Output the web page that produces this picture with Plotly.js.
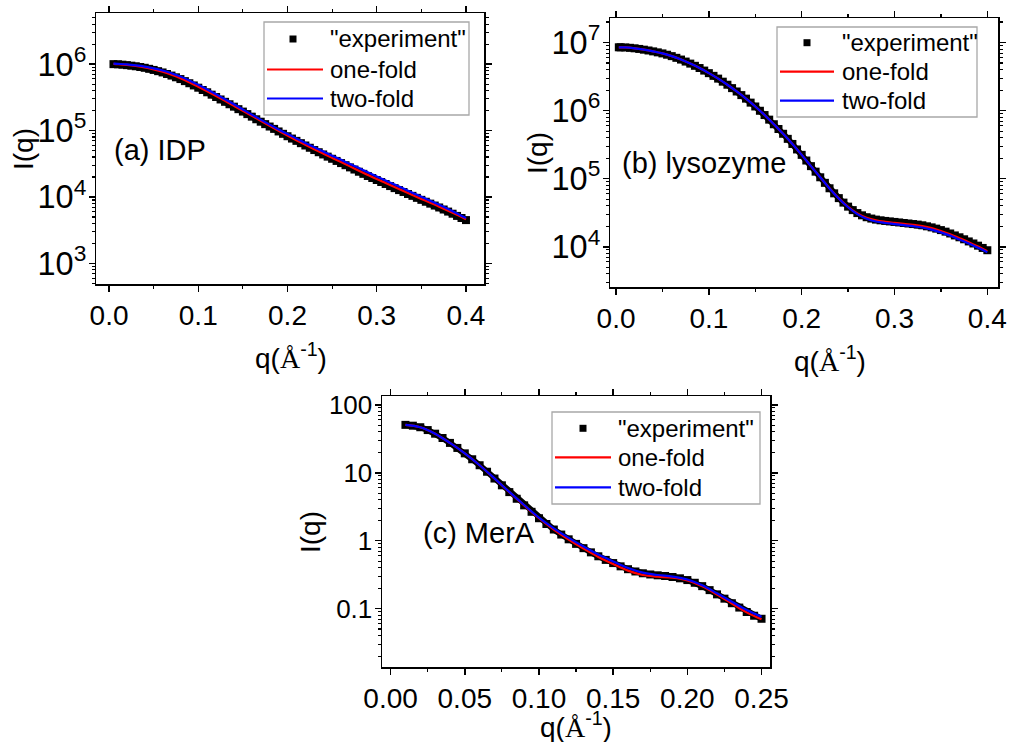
<!DOCTYPE html>
<html>
<head>
<meta charset="utf-8">
<script src="https://cdn.plot.ly/plotly-3.0.1.min.js"></script>
<style>
html,body{margin:0;padding:0;background:#fff;}
#chart{width:1010px;height:742px;}
</style>
</head>
<body>
<div id="chart"></div>
<script>
// ---------- Panel (a) IDP ----------
const qA_exp = [0.005,0.010,0.015,0.020,0.025,0.030,0.035,0.040,0.045,0.050,0.055,0.060,0.065,0.070,0.075,0.080,0.085,0.090,0.095,0.100,0.105,0.110,0.115,0.120,0.125,0.130,0.135,0.140,0.145,0.150,0.155,0.160,0.165,0.170,0.175,0.180,0.185,0.190,0.195,0.200,0.205,0.210,0.215,0.220,0.225,0.230,0.235,0.240,0.245,0.250,0.255,0.260,0.265,0.270,0.275,0.280,0.285,0.290,0.295,0.300,0.305,0.310,0.315,0.320,0.325,0.330,0.335,0.340,0.345,0.350,0.355,0.360,0.365,0.370,0.375,0.380,0.385,0.390,0.395,0.400];
const IA_exp = [1.00e6,9.95e5,9.82e5,9.66e5,9.48e5,9.29e5,9.06e5,8.81e5,8.50e5,8.18e5,7.84e5,7.50e5,7.11e5,6.73e5,6.34e5,5.96e5,5.55e5,5.16e5,4.78e5,4.42e5,4.08e5,3.77e5,3.47e5,3.20e5,2.94e5,2.71e5,2.49e5,2.29e5,2.10e5,1.93e5,1.77e5,1.62e5,1.48e5,1.36e5,1.25e5,1.15e5,1.06e5,9.70e4,8.93e4,8.22e4,7.58e4,7.00e4,6.46e4,5.96e4,5.51e4,5.09e4,4.72e4,4.37e4,4.05e4,3.76e4,3.49e4,3.24e4,3.01e4,2.79e4,2.59e4,2.40e4,2.23e4,2.07e4,1.93e4,1.80e4,1.68e4,1.57e4,1.46e4,1.36e4,1.27e4,1.19e4,1.11e4,1.04e4,9.71e3,9.06e3,8.48e3,7.94e3,7.43e3,6.95e3,6.48e3,6.03e3,5.60e3,5.19e3,4.83e3,4.49e3];
const qA_fit = [0.005,0.01,0.02,0.03,0.04,0.05,0.06,0.07,0.08,0.09,0.10,0.11,0.12,0.13,0.14,0.15,0.16,0.17,0.18,0.19,0.20,0.21,0.22,0.23,0.24,0.25,0.26,0.27,0.28,0.29,0.30,0.31,0.32,0.33,0.34,0.35,0.36,0.37,0.38,0.39,0.40];
const IA_one = [1.01e6,1.00e6,9.75e5,9.40e5,8.95e5,8.35e5,7.68e5,6.92e5,6.14e5,5.33e5,4.57e5,3.90e5,3.31e5,2.80e5,2.36e5,1.99e5,1.67e5,1.40e5,1.18e5,9.95e4,8.42e4,7.17e4,6.12e4,5.24e4,4.50e4,3.88e4,3.35e4,2.89e4,2.49e4,2.15e4,1.86e4,1.62e4,1.41e4,1.23e4,1.07e4,9.35e3,8.18e3,7.16e3,6.23e3,5.38e3,4.62e3];
const IA_two = [1.02e6,1.01e6,9.90e5,9.60e5,9.20e5,8.65e5,8.02e5,7.30e5,6.52e5,5.68e5,4.88e5,4.16e5,3.52e5,2.96e5,2.49e5,2.08e5,1.74e5,1.46e5,1.23e5,1.04e5,8.85e4,7.58e4,6.50e4,5.60e4,4.84e4,4.19e4,3.63e4,3.14e4,2.72e4,2.35e4,2.04e4,1.77e4,1.54e4,1.34e4,1.16e4,1.01e4,8.78e3,7.62e3,6.58e3,5.65e3,4.82e3];

// ---------- Panel (b) lysozyme ----------
const qB_exp = [0.003,0.005,0.010,0.015,0.020,0.025,0.030,0.035,0.040,0.045,0.050,0.055,0.060,0.065,0.070,0.075,0.080,0.085,0.090,0.095,0.100,0.105,0.110,0.115,0.120,0.125,0.130,0.135,0.140,0.145,0.150,0.155,0.160,0.165,0.170,0.175,0.180,0.185,0.190,0.195,0.200,0.205,0.210,0.215,0.220,0.225,0.230,0.235,0.240,0.245,0.250,0.255,0.260,0.265,0.270,0.275,0.280,0.285,0.290,0.295,0.300,0.305,0.310,0.315,0.320,0.325,0.330,0.335,0.340,0.345,0.350,0.355,0.360,0.365,0.370,0.375,0.380,0.385,0.390,0.395,0.400];
const IB_exp = [8.51e6,8.50e6,8.47e6,8.36e6,8.22e6,8.05e6,7.85e6,7.64e6,7.41e6,7.17e6,6.92e6,6.62e6,6.31e6,5.96e6,5.62e6,5.25e6,4.90e6,4.55e6,4.22e6,3.87e6,3.55e6,3.24e6,2.95e6,2.66e6,2.40e6,2.14e6,1.91e6,1.69e6,1.50e6,1.31e6,1.15e6,9.95e5,8.61e5,7.37e5,6.31e5,5.37e5,4.57e5,3.85e5,3.24e5,2.69e5,2.24e5,1.85e5,1.53e5,1.27e5,1.05e5,8.70e4,7.24e4,6.10e4,5.19e4,4.46e4,3.89e4,3.46e4,3.13e4,2.90e4,2.72e4,2.60e4,2.51e4,2.45e4,2.40e4,2.36e4,2.32e4,2.28e4,2.24e4,2.20e4,2.16e4,2.12e4,2.07e4,2.00e4,1.93e4,1.85e4,1.76e4,1.67e4,1.57e4,1.47e4,1.38e4,1.29e4,1.20e4,1.12e4,1.04e4,9.63e3,8.91e3];
const qB_fit = [0.003,0.01,0.02,0.03,0.04,0.05,0.06,0.07,0.08,0.09,0.10,0.11,0.12,0.13,0.14,0.15,0.16,0.17,0.18,0.19,0.20,0.21,0.22,0.23,0.24,0.25,0.26,0.27,0.28,0.29,0.30,0.31,0.32,0.33,0.34,0.35,0.36,0.37,0.38,0.39,0.40];
const IB_one = [8.51e6,8.47e6,8.22e6,7.85e6,7.41e6,6.92e6,6.31e6,5.62e6,4.90e6,4.22e6,3.55e6,2.95e6,2.40e6,1.91e6,1.50e6,1.15e6,8.61e5,6.31e5,4.57e5,3.24e5,2.24e5,1.53e5,1.05e5,7.24e4,5.15e4,3.86e4,3.09e4,2.67e4,2.45e4,2.33e4,2.25e4,2.17e4,2.10e4,2.01e4,1.88e4,1.71e4,1.53e4,1.34e4,1.17e4,1.01e4,8.65e3];
const IB_two = [8.51e6,8.47e6,8.22e6,7.85e6,7.41e6,6.92e6,6.31e6,5.62e6,4.90e6,4.22e6,3.55e6,2.95e6,2.40e6,1.91e6,1.50e6,1.15e6,8.61e5,6.31e5,4.57e5,3.24e5,2.24e5,1.53e5,1.05e5,7.20e4,5.12e4,3.81e4,3.02e4,2.58e4,2.35e4,2.24e4,2.16e4,2.08e4,2.01e4,1.92e4,1.79e4,1.63e4,1.46e4,1.28e4,1.12e4,9.70e3,8.35e3];

// ---------- Panel (c) MerA ----------
const qC_exp = [0.010,0.015,0.020,0.025,0.030,0.035,0.040,0.045,0.050,0.055,0.060,0.065,0.070,0.075,0.080,0.085,0.090,0.095,0.100,0.105,0.110,0.115,0.120,0.125,0.130,0.135,0.140,0.145,0.150,0.155,0.160,0.165,0.170,0.175,0.180,0.185,0.190,0.195,0.200,0.205,0.210,0.215,0.220,0.225,0.230,0.235,0.240,0.245,0.250];
const IC_exp = [50.7,49.3,46.8,42.5,37.6,32.5,27.5,23.2,19.3,15.8,12.9,10.35,8.22,6.53,5.19,4.14,3.31,2.66,2.14,1.76,1.46,1.23,1.047,0.897,0.776,0.673,0.589,0.521,0.468,0.419,0.380,0.352,0.331,0.318,0.309,0.302,0.292,0.279,0.263,0.240,0.214,0.187,0.162,0.140,0.120,0.1035,0.0891,0.0785,0.0708];
const qC_fit = [0.01,0.02,0.03,0.04,0.05,0.06,0.07,0.08,0.09,0.10,0.11,0.12,0.13,0.14,0.15,0.16,0.17,0.18,0.19,0.20,0.21,0.22,0.23,0.24,0.25];
const IC_one = [50.7,46.8,37.6,27.5,19.3,12.9,8.22,5.19,3.31,2.14,1.46,1.04,0.765,0.575,0.452,0.362,0.312,0.295,0.285,0.260,0.213,0.161,0.119,0.088,0.0695];
const IC_two = [50.7,46.8,37.6,27.5,19.3,12.9,8.25,5.22,3.35,2.18,1.52,1.10,0.82,0.625,0.495,0.395,0.338,0.312,0.296,0.268,0.220,0.168,0.126,0.095,0.0755];

const seriesNames = ['"experiment"', 'one-fold', 'two-fold'];
const panelLabels = ['(a) IDP', '(b) lysozyme', '(c) MerA'];
const xTitleText = 'q(<span style="font-family:Liberation Serif, Times New Roman, serif">Å</span><sup>-1</sup>)';
const yTitleText = 'I(q)';

const FONT = 'Liberation Sans, Arial, sans-serif';
const RED = '#ff0000', BLUE = '#0000ff';

function panelTraces(q, Iexp, qf, Ione, Itwo, xa, ya) {
  return [
    {x: q, y: Iexp, xaxis: xa, yaxis: ya, name: seriesNames[0], mode: 'lines+markers', type: 'scatter', showlegend: false,
     line: {color: '#000', width: 6}, marker: {symbol: 'square', size: 8, color: '#000', line: {width: 0}}},
    {x: qf, y: Ione, xaxis: xa, yaxis: ya, name: seriesNames[1], mode: 'lines', type: 'scatter', showlegend: false,
     line: {color: RED, width: 2.2, shape: 'spline'}},
    {x: qf, y: Itwo, xaxis: xa, yaxis: ya, name: seriesNames[2], mode: 'lines', type: 'scatter', showlegend: false,
     line: {color: BLUE, width: 2.2, shape: 'spline'}}
  ];
}

const data = [].concat(
  panelTraces(qA_exp, IA_exp, qA_fit, IA_one, IA_two, 'x', 'y'),
  panelTraces(qB_exp, IB_exp, qB_fit, IB_one, IB_two, 'x2', 'y2'),
  panelTraces(qC_exp, IC_exp, qC_fit, IC_one, IC_two, 'x3', 'y3')
);

const W = 1010, H = 742;
const px = v => v / W;
const py = v => 1 - v / H;

function xAxis(domain, range, dtick, fmt, anchor) {
  return {
    domain: domain, range: range, anchor: anchor, dtick: dtick, tick0: 0, tickformat: fmt,
    showline: true, mirror: 'allticks', linecolor: '#000', linewidth: 1.5,
    ticks: 'outside', ticklen: 6, tickwidth: 1.5, tickcolor: '#000',
    minor: {ticks: 'outside', ticklen: 3, tickwidth: 1.2, tickcolor: '#000', dtick: dtick / 2, showgrid: false},
    showgrid: false, zeroline: false,
    tickfont: {family: FONT, size: 28, color: '#000'}
  };
}
function yAxis(domain, range, anchor, expfmt) {
  return {
    domain: domain, range: range, anchor: anchor, type: 'log', dtick: 1,
    exponentformat: expfmt,
    showline: true, mirror: 'allticks', linecolor: '#000', linewidth: 1.5,
    ticks: 'outside', ticklen: 6, tickwidth: 1.5, tickcolor: '#000',
    minor: {ticks: 'outside', ticklen: 3, tickwidth: 1.1, tickcolor: '#000', showgrid: false},
    showgrid: false, zeroline: false, ticklabelstandoff: -3,
    tickfont: {family: FONT, size: 26, color: '#000'}
  };
}

// hand-built legends (box, sample line / marker, text) for each panel, in pixel positions
const legendBoxes = [
  {box: [264, 22, 469, 115], mx: 293, lx: [267, 323], tx: 329, rows: [39, 69.5, 98.5]},
  {box: [777, 27, 977, 117], mx: 807, lx: [780, 834], tx: 841, rows: [42.7, 71.7, 100.7]},
  {box: [552, 412, 760, 504], mx: 583, lx: [555, 611], tx: 617, rows: [428.3, 457.3, 487.3]}
];
const shapes = [];
const annotations = [];
legendBoxes.forEach(L => {
  shapes.push({type: 'rect', xref: 'paper', yref: 'paper', x0: px(L.box[0]), x1: px(L.box[2]), y0: py(L.box[1]), y1: py(L.box[3]),
    line: {color: '#a8a8a8', width: 1.3}, fillcolor: '#fff'});
  shapes.push({type: 'rect', xref: 'paper', yref: 'paper', x0: px(L.mx - 3.5), x1: px(L.mx + 3.5), y0: py(L.rows[0] - 3.5), y1: py(L.rows[0] + 3.5),
    line: {width: 0}, fillcolor: '#000'});
  [RED, BLUE].forEach((c, i) => {
    shapes.push({type: 'line', xref: 'paper', yref: 'paper', x0: px(L.lx[0]), x1: px(L.lx[1]), y0: py(L.rows[i + 1]), y1: py(L.rows[i + 1]),
      line: {color: c, width: 2.2}});
  });
  seriesNames.forEach((n, i) => {
    annotations.push({text: n, xref: 'paper', yref: 'paper', x: px(L.tx), y: py(L.rows[i]), xanchor: 'left', yanchor: 'middle',
      showarrow: false, borderpad: 0, font: {family: FONT, size: 24, color: '#000'}});
  });
});

const labelPos = [[112, 150], [620, 163], [421, 533]];
panelLabels.forEach((t, i) => {
  annotations.push({text: t, xref: 'paper', yref: 'paper', x: px(labelPos[i][0]), y: py(labelPos[i][1]), xanchor: 'left', yanchor: 'middle',
    showarrow: false, font: {family: FONT, size: 29, color: '#000'}});
});

// axis titles placed as text annotations
const xTitlePos = [[291, 356], [830, 359], [576, 725]];
const yTitlePos = [[23, 149], [537, 153], [310, 532]];
xTitlePos.forEach(p => {
  annotations.push({text: xTitleText, xref: 'paper', yref: 'paper', x: px(p[0]), y: py(p[1]), xanchor: 'center', yanchor: 'middle',
    showarrow: false, borderpad: 0, font: {family: FONT, size: 28, color: '#000'}});
});
yTitlePos.forEach(p => {
  annotations.push({text: yTitleText, xref: 'paper', yref: 'paper', x: px(p[0]), y: py(p[1]), xanchor: 'center', yanchor: 'middle',
    textangle: -90, showarrow: false, borderpad: 0, font: {family: FONT, size: 28, color: '#000'}});
});

const layout = {
  width: W, height: H,
  margin: {l: 0, r: 0, t: 0, b: 0},
  paper_bgcolor: '#fff', plot_bgcolor: '#fff',
  font: {family: FONT, color: '#000'},
  showlegend: false,
  xaxis:  xAxis([px(96), px(484)], [-0.0146, 0.4202], 0.1, '.1f', 'y'),
  yaxis:  yAxis([py(284), py(13)], [2.69, 6.77], 'x', 'power'),
  xaxis2: xAxis([px(610), px(998)], [-0.0065, 0.4115], 0.1, '.1f', 'y2'),
  yaxis2: yAxis([py(287), py(18)], [3.41, 7.36], 'x2', 'power'),
  xaxis3: xAxis([px(382), px(770)], [-0.0058, 0.2557], 0.05, '.2f', 'y3'),
  yaxis3: yAxis([py(667), py(396)], [-1.86, 2.13], 'x3', 'none'),
  shapes: shapes,
  annotations: annotations
};

Plotly.newPlot('chart', data, layout, {displayModeBar: false, staticPlot: true});
</script>
</body>
</html>
